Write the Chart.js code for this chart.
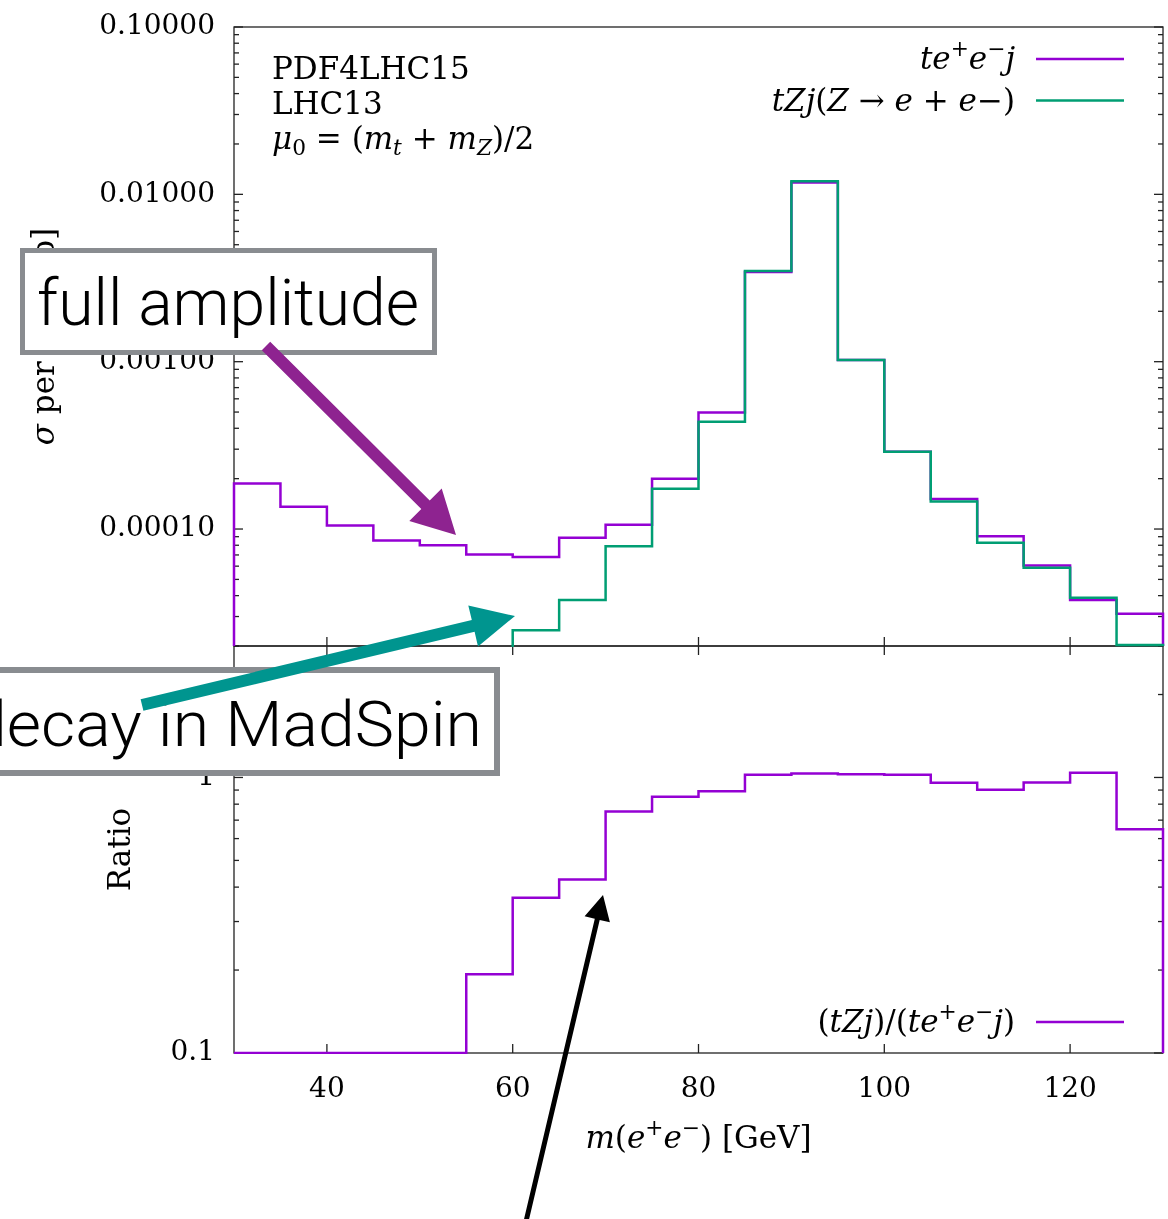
<!DOCTYPE html>
<html>
<head>
<meta charset="utf-8">
<script src="https://cdn.jsdelivr.net/npm/chart.js@4.4.1/dist/chart.umd.min.js"></script>
<style>
  html, body { margin: 0; padding: 0; background: #fff; }
  #wrap { position: relative; width: 1168px; height: 1219px; overflow: hidden; background: #fff; }
  #c { position: absolute; left: 0; top: 0; }
  #overlay { position: absolute; left: 0; top: 0; pointer-events: none; }
  .boxtxt { font-family: Roboto, 'Liberation Sans', Arial, sans-serif; font-weight: 300; }
</style>
</head>
<body>
<div id="wrap">
  <canvas id="c" width="1168" height="1219"></canvas>
  <svg id="overlay" width="1168" height="1219" xmlns="http://www.w3.org/2000/svg">
    <rect x="22.5" y="250.5" width="412" height="102" fill="#fff" stroke="#898c90" stroke-width="5"/>
    <text class="boxtxt" x="37" y="325" font-size="64" fill="#000" textLength="382" lengthAdjust="spacingAndGlyphs">full amplitude</text>
    <polygon id="arrPurple" fill="#8e2390"/>
    <rect x="-10" y="670" width="507" height="103" fill="#fff" stroke="#898c90" stroke-width="6"/>
    <text class="boxtxt" x="-30" y="746" font-size="63" fill="#000" textLength="512" lengthAdjust="spacingAndGlyphs">decay in MadSpin</text>
    <polygon id="arrTeal" fill="#00958f"/>
    <polygon id="arrBlack" fill="#000"/>
  </svg>
</div>
<script>
// ---------------- data ----------------
const binEdges = [30, 35, 40, 45, 50, 55, 60, 65, 70, 75, 80, 85, 90, 95, 100, 105, 110, 115, 120, 125, 130];
// sigma per bin [pb], t e+ e- j (full amplitude)
const sigmaTeej = [1.87e-4, 1.36e-4, 1.05e-4, 8.55e-5, 8.0e-5, 7.05e-5, 6.8e-5, 8.87e-5, 1.06e-4, 2.0e-4,
                   4.97e-4, 3.43e-3, 1.175e-2, 1.023e-3, 2.90e-4, 1.51e-4, 9.07e-5, 6.06e-5, 3.76e-5, 3.12e-5];
// sigma per bin [pb], t Z j (Z -> e+ e-) decayed in MadSpin (0 = empty bin)
const sigmaTzj = [0, 0, 0, 0, 0, 1.36e-5, 2.48e-5, 3.76e-5, 7.9e-5, 1.74e-4,
                  4.38e-4, 3.48e-3, 1.197e-2, 1.023e-3, 2.90e-4, 1.46e-4, 8.28e-5, 5.87e-5, 3.88e-5, 2.03e-5];
// ratio (tZj)/(te+e-j)
const ratioValues = [0, 0, 0, 0, 0, 0.193, 0.366, 0.426, 0.752, 0.851,
                     0.892, 1.023, 1.034, 1.028, 1.023, 0.956, 0.902, 0.959, 1.040, 0.649];

const seriesLabels = ['$te^+e^-j$', '$tZj(Z \u2192 e + e\u2212)$', '$(tZj)/(te^+e^-j)$'];
const seriesColors = ['#9400d3', '#009e73', '#9400d3'];

const xTickValues = [40, 60, 80, 100, 120];
const xTickLabels = ['40', '60', '80', '100', '120'];
const sigmaMajorTicks = [0.0001, 0.001, 0.01, 0.1];
const sigmaTickLabels = ['0.00010', '0.00100', '0.01000', '0.10000'];
const ratioMajorTicks = [0.1, 1];
const ratioTickLabels = ['0.1', '1'];
const minorMantissas = [2, 3, 4, 5, 6, 7, 8, 9];

const infoLines = ['PDF4LHC15', 'LHC13', '$\u03bc_0 = (m_t + m_Z)/2$'];
const xTitle = '$m(e^+e^-)$ [GeV]';
const yTitleTop = '$\u03c3$ per bin [pb]';
const yTitleBottom = 'Ratio';

const X_MIN = 30, X_MAX = 130;
const SIG_MIN = 2e-5, SIG_MAX = 0.1;
const RAT_MIN = 0.1, RAT_MAX = 3;

// ---------------- helpers ----------------
const SERIF = '"DejaVu Serif", "Liberation Serif", serif';
const FS_TICK = 28, FS_INFO = 31, FS_LEG = 31, FS_TITLE = 31;

// histogram outline; empty bins (0) are either left out (gap) or sat on the axis floor
function stepPoints(edges, vals, floor, zerosOnFloor) {
  const val = v => (v > 0 ? v : (zerosOnFloor ? floor : null));
  const pts = [{x: edges[0], y: val(vals[0]) === null ? null : floor}];
  vals.forEach((v, i) => {
    const y = val(v);
    pts.push({x: edges[i], y: y}, {x: edges[i + 1], y: y});
  });
  pts.push({x: edges[edges.length - 1], y: val(vals[vals.length - 1]) === null ? null : floor});
  return pts;
}

function logTicks(min, max) {
  const out = [];
  const lo = Math.floor(Math.log10(min)), hi = Math.ceil(Math.log10(max));
  for (let e = lo; e <= hi; e++) {
    const d = Math.pow(10, e);
    [1].concat(minorMantissas).forEach(m => {
      const v = +(m * d).toPrecision(6);
      if (v >= min * 0.9999 && v <= max * 1.0001) out.push(v);
    });
  }
  return out;
}
function isDecade(v) {
  const l = Math.log10(v);
  return Math.abs(l - Math.round(l)) < 1e-6;
}
function labelFor(v, majors, labels) {
  for (let i = 0; i < majors.length; i++) {
    if (Math.abs(v / majors[i] - 1) < 1e-6) return labels[i];
  }
  return '';
}

// tiny rich-text renderer: $...$ = math (letters italic), ^x superscript, _x subscript
function parseRich(s) {
  const runs = [];
  let math = false;
  for (let i = 0; i < s.length; i++) {
    let c = s[i];
    if (c === '$') { math = !math; continue; }
    let pos = 0;
    if (c === '^' || c === '_') { pos = c === '^' ? 1 : -1; c = s[++i]; }
    if (math && c === '-') c = '\u2212';
    const it = math && /[A-Za-z\u03b1-\u03c9]/.test(c);
    const last = runs[runs.length - 1];
    if (last && last.it === it && last.pos === pos) last.t += c;
    else runs.push({t: c, it: it, pos: pos});
  }
  return runs;
}
function runFont(r, size) {
  const sz = r.pos ? size * 0.7 : size;
  return (r.it ? 'italic ' : '') + sz.toFixed(1) + 'px ' + SERIF;
}
function drawRich(ctx, str, x, y, size, align) {
  const runs = parseRich(str);
  let w = 0;
  runs.forEach(r => { ctx.font = runFont(r, size); r.w = ctx.measureText(r.t).width; w += r.w; });
  let cx = align === 'right' ? x - w : (align === 'center' ? x - w / 2 : x);
  ctx.textAlign = 'left';
  ctx.textBaseline = 'alphabetic';
  runs.forEach(r => {
    ctx.font = runFont(r, size);
    const dy = r.pos > 0 ? -size * 0.42 : (r.pos < 0 ? size * 0.2 : 0);
    ctx.fillText(r.t, cx, y + dy);
    cx += r.w;
  });
}

// ---------------- plugins ----------------
const framePlugin = {
  id: 'gnuFrame',
  beforeDatasetsDraw(chart) {
    const ctx = chart.ctx;
    const x = chart.scales.x, ys = [chart.scales.y, chart.scales.yr];
    ctx.save();
    ctx.strokeStyle = '#222';
    ctx.lineWidth = 1.3;
    const seg = (x1, y1, x2, y2) => { ctx.beginPath(); ctx.moveTo(x1, y1); ctx.lineTo(x2, y2); ctx.stroke(); };
    ys.forEach(s => {
      ctx.strokeRect(x.left, s.top, x.right - x.left, s.bottom - s.top);
      s.ticks.forEach(t => {
        const py = s.getPixelForValue(t.value);
        const len = isDecade(t.value) ? 9 : 5;
        seg(x.left, py, x.left + len, py);
        seg(x.right, py, x.right - len, py);
      });
    });
    const up = chart.scales.y, lo = chart.scales.yr;
    x.ticks.forEach(t => {
      const px = x.getPixelForValue(t.value);
      seg(px, up.bottom, px, up.bottom - 9);
      seg(px, lo.top, px, lo.top + 9);
      seg(px, lo.bottom, px, lo.bottom - 9);
    });
    ctx.restore();
  }
};

const textPlugin = {
  id: 'richTexts',
  afterDraw(chart) {
    const ctx = chart.ctx;
    const x = chart.scales.x, up = chart.scales.y, lo = chart.scales.yr;
    ctx.save();
    ctx.fillStyle = '#000';
    // info block
    infoLines.forEach((s, i) => drawRich(ctx, s, x.left + 38, up.top + 52 + i * 35, FS_INFO, 'left'));
    // legends (gnuplot style: text, then line sample)
    const ds = chart.data.datasets;
    const legendRow = (d, yLine) => {
      ctx.fillStyle = '#000';
      drawRich(ctx, d.label, x.right - 148, yLine + 10, FS_LEG, 'right');
      ctx.strokeStyle = d.borderColor;
      ctx.lineWidth = 2.5;
      ctx.beginPath(); ctx.moveTo(x.right - 127, yLine); ctx.lineTo(x.right - 39, yLine); ctx.stroke();
    };
    legendRow(ds[0], up.top + 32);
    legendRow(ds[1], up.top + 73.5);
    legendRow(ds[2], lo.bottom - 31);
    // axis titles
    ctx.fillStyle = '#000';
    drawRich(ctx, xTitle, (x.left + x.right) / 2, lo.bottom + 95, FS_TITLE, 'center');
    ctx.save();
    ctx.translate(54, (up.top + up.bottom) / 2);
    ctx.rotate(-Math.PI / 2);
    drawRich(ctx, yTitleTop, 0, 0, FS_TITLE, 'center');
    ctx.restore();
    ctx.save();
    ctx.translate(130, (lo.top + lo.bottom) / 2);
    ctx.rotate(-Math.PI / 2);
    drawRich(ctx, yTitleBottom, 0, 0, FS_TITLE, 'center');
    ctx.restore();
    ctx.restore();
  }
};

// ---------------- chart ----------------
const lineDs = (label, color, pts, yAxisID, order) => ({
  label: label, data: pts, yAxisID: yAxisID, xAxisID: 'x',
  borderColor: color, backgroundColor: color, borderWidth: 2.5,
  pointRadius: 0, pointHoverRadius: 0, showLine: true, tension: 0, spanGaps: false,
  borderJoinStyle: 'miter', borderCapStyle: 'butt', fill: false,
  clip: {left: 2, right: 2, top: 2, bottom: 1}, order: order
});

const tickFont = {family: SERIF, size: FS_TICK};
const noPad = s => { s.paddingTop = 0; s.paddingBottom = 0; s.paddingLeft = 0; s.paddingRight = 0; };

new Chart(document.getElementById('c'), {
  type: 'scatter',
  data: {
    datasets: [
      lineDs(seriesLabels[0], seriesColors[0], stepPoints(binEdges, sigmaTeej, SIG_MIN, true), 'y', 2),
      lineDs(seriesLabels[1], seriesColors[1], stepPoints(binEdges, sigmaTzj, SIG_MIN, false), 'y', 1),
      lineDs(seriesLabels[2], seriesColors[2], stepPoints(binEdges, ratioValues, RAT_MIN, true), 'yr', 0)
    ]
  },
  options: {
    responsive: false,
    animation: false,
    devicePixelRatio: 1,
    layout: {padding: {left: 0, right: 5, top: 27, bottom: 0}},
    plugins: {legend: {display: false}, tooltip: {enabled: false}, title: {display: false}},
    scales: {
      x: {
        type: 'linear', position: 'bottom', min: X_MIN, max: X_MAX,
        grid: {display: false}, border: {display: false},
        afterBuildTicks: s => { s.ticks = xTickValues.map(v => ({value: v})); },
        afterFit: s => { s.height = 166; noPad(s); },
        ticks: {
          autoSkip: false, maxRotation: 0, font: tickFont, color: '#000', padding: 12,
          callback: v => { const i = xTickValues.indexOf(v); return i >= 0 ? xTickLabels[i] : ''; }
        }
      },
      y: {
        type: 'logarithmic', position: 'left', min: SIG_MIN, max: SIG_MAX,
        stack: 'panels', stackWeight: 619, weight: 2,
        grid: {display: false}, border: {display: false},
        afterBuildTicks: s => { s.ticks = logTicks(SIG_MIN, SIG_MAX).map(v => ({value: v})); },
        afterFit: s => { s.width = 234; noPad(s); },
        ticks: {
          autoSkip: false, font: tickFont, color: '#000', padding: 11,
          callback: v => labelFor(v, sigmaMajorTicks, sigmaTickLabels)
        }
      },
      yr: {
        type: 'logarithmic', position: 'left', min: RAT_MIN, max: RAT_MAX,
        stack: 'panels', stackWeight: 407, weight: 1,
        grid: {display: false}, border: {display: false},
        afterBuildTicks: s => { s.ticks = logTicks(RAT_MIN, RAT_MAX).map(v => ({value: v})); },
        afterFit: s => { s.width = 234; noPad(s); },
        ticks: {
          autoSkip: false, font: tickFont, color: '#000', padding: 11,
          callback: v => labelFor(v, ratioMajorTicks, ratioTickLabels)
        }
      }
    }
  },
  plugins: [framePlugin, textPlugin]
});

// ---------------- annotation arrows (overlay) ----------------
function arrowPoly(id, tail, tip, shaftW, headLen, headHalf) {
  const dx = tip[0] - tail[0], dy = tip[1] - tail[1];
  const L = Math.hypot(dx, dy), ux = dx / L, uy = dy / L, nx = -uy, ny = ux;
  const bx = tip[0] - ux * headLen, by = tip[1] - uy * headLen;
  const h = shaftW / 2;
  const p = [
    [tail[0] + nx * h, tail[1] + ny * h], [bx + nx * h, by + ny * h], [bx + nx * headHalf, by + ny * headHalf],
    tip, [bx - nx * headHalf, by - ny * headHalf], [bx - nx * h, by - ny * h], [tail[0] - nx * h, tail[1] - ny * h]
  ];
  document.getElementById(id).setAttribute('points', p.map(q => q[0].toFixed(1) + ',' + q[1].toFixed(1)).join(' '));
}
arrowPoly('arrPurple', [266, 346], [456, 535], 12, 43, 23);
arrowPoly('arrTeal', [142, 705], [515, 616], 12, 43, 21);
arrowPoly('arrBlack', [524, 1230], [603, 895], 5, 25, 13);
</script>
</body>
</html>
